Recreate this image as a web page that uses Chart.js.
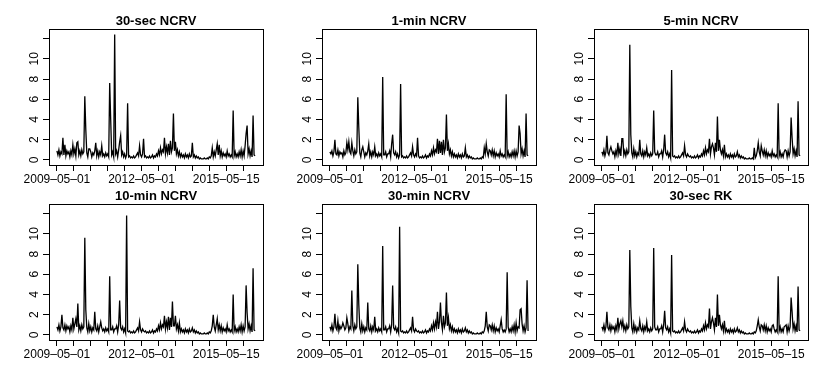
<!DOCTYPE html>
<html lang="en">
<head>
<meta charset="UTF-8">
<title>NCRV panels</title>
<script src="https://cdn.jsdelivr.net/npm/chart.js"></script>
<style>
  body { margin: 0; background: #fff; }
  #wrap { position: relative; width: 817px; height: 381px; }
  #wrap canvas { position: absolute; }
</style>
</head>
<body>
<div id="wrap"></div>
<script>
// panel titles, in reading order
const titles = ['30-sec NCRV', '1-min NCRV', '5-min NCRV', '10-min NCRV', '30-min NCRV', '30-sec RK'];

// x axis: observation index, tick marks and their labels (R drops the overlapping ones)
const xTickPos = [0, 17, 34, 51, 68, 85, 102, 119, 136, 153, 170, 187];
const xTickLabels = ['2009-05-01', '', '', '', '', '2012-05-01', '', '', '', '', '2015-05-15', ''];
const yTickPos = [0, 2, 4, 6, 8, 10, 12];
const yTickLabels = ['0', '2', '4', '6', '8', '10', ''];

const ncrv30s = [
  .9,.5,1.0,.4,.8,.6,2.2,.5,1.5,.4,.9,.6,.8,.3,.9,.5,1.5,.6,1.1,.4,
  1.7,1.8,.5,.9,.4,1.0,.6,.8,6.3,3.0,.7,.3,1.1,1.1,.8,.3,.7,.5,.9,1.7,
  .4,.9,.3,.8,.5,1.4,.4,.6,.3,.7,.4,.6,.3,7.6,4.0,.5,.8,.3,12.4,.6,
  .9,.3,1.0,1.8,2.4,.5,.8,.3,.6,.2,.5,5.6,.3,.4,.2,.3,.2,.4,.2,.3,
  .5,.7,.4,1.4,.5,.3,.6,2.1,.3,.4,.2,.3,.2,.4,.2,.3,.5,.2,.4,.3,
  .6,.4,.9,.5,1.2,.6,1.0,.8,2.2,.6,1.3,.7,1.6,.5,1.9,.8,1.2,4.6,.9,1.8,
  .6,1.0,.4,.8,.3,.6,.3,.5,.2,.6,.3,.5,.2,.6,.3,.4,1.7,.3,.5,.2,
  .4,.2,.3,.1,.2,.1,.1,.1,.2,.1,.1,.2,.1,.3,.2,.4,1.2,.3,.8,.4,
  1.0,1.6,.5,1.5,.4,.9,.3,.7,.4,.6,.3,.9,.4,.6,.3,.5,.3,4.9,.4,.8,
  .3,.6,.3,.8,.4,1.0,.3,.9,.4,1.4,2.6,3.4,.6,1.1,.4,.9,.3,4.4,.5,.4
];
const ncrv1m = [
  .8,.6,.9,.4,.8,2.0,.6,.5,1.0,.4,.8,.6,.7,.3,.9,.5,.7,1.7,1.0,1.8,
  .8,.6,1.7,.9,.4,1.0,.6,.8,6.2,3.2,.7,.3,1.0,1.3,.8,.3,.7,.5,.9,1.6,
  .4,.8,.3,.8,.5,1.3,.4,.6,.3,.7,.4,.6,.3,8.2,.5,.5,.8,.3,.6,.6,
  .9,.3,1.6,2.5,.7,.5,.8,.3,.6,.2,.5,7.5,.3,.4,.2,.3,.2,.4,.2,.3,
  .5,.7,.4,1.3,.5,.3,.6,.4,2.2,.4,.2,.3,.2,.4,.2,.3,.5,.2,.4,.3,
  .6,.4,.9,.5,1.2,.6,1.0,.8,2.1,.6,1.9,.7,1.8,.5,2.0,.8,1.2,4.5,.9,1.6,
  .6,1.0,.4,.8,.3,.6,.3,.5,.2,.6,.3,.5,.2,.6,.3,.4,1.2,.3,.5,.2,
  .4,.2,.3,.1,.2,.1,.1,.1,.2,.1,.1,.2,.1,.3,.2,1.2,.6,1.6,.8,.4,
  1.0,.9,.5,1.0,.4,.9,.3,.7,.4,.6,.3,.9,.4,.6,.3,.5,.3,6.5,.4,.8,
  .3,.6,.3,.8,.4,.9,.3,.9,.4,.8,3.4,2.6,.6,1.1,.4,.9,.3,4.6,.5,.4
];
const ncrv5m = [
  .8,.5,1.0,.4,.8,2.4,.7,.5,1.0,1.3,.9,.6,.8,.3,.9,.5,1.7,.6,1.1,.4,
  2.1,2.1,.5,.9,.4,1.0,.6,.8,11.4,2.5,.7,.3,1.1,.4,.8,.3,.7,.5,2.0,.6,
  .4,.9,.3,.8,.5,1.2,.4,.6,.3,.7,.4,.6,4.9,.8,.5,.5,.8,.3,.6,.6,
  .9,.3,1.0,2.5,.7,.5,.8,.3,.6,.2,8.9,.4,.3,.4,.2,.3,.2,.4,.2,.3,
  .5,.7,.4,1.4,.5,.3,.6,.4,.3,.4,.2,.3,.2,.4,.2,.3,.5,.2,.4,.3,
  .6,.4,.9,.5,1.2,.6,1.0,.8,2.1,.6,1.3,1.6,1.2,.5,1.7,.8,4.3,.9,2.0,1.0,
  .6,1.0,.4,1.5,.3,.6,.3,.5,.2,.6,.3,.5,.2,.6,.3,.4,.8,.3,.5,.2,
  .4,.2,.3,.1,.2,.1,.1,.1,.2,.1,.1,.2,.1,1.2,.2,.4,.9,1.7,.8,.4,
  1.4,.9,.5,1.0,.4,.9,.3,.7,.4,.6,.3,.9,.4,.6,.3,.5,.3,5.6,.4,.8,
  .3,.6,.3,.8,1.0,.9,.3,.9,.4,.8,4.2,2.2,.6,1.1,.4,.9,.3,5.8,.5,.4
];
const ncrv10m = [
  .8,.5,1.0,.4,.8,2.0,.7,.5,1.0,.4,.9,.6,.8,.3,.9,.5,1.7,.6,1.1,1.6,
  .8,3.1,.5,.9,.4,1.0,.6,.8,9.6,2.5,.7,.3,1.1,.4,.8,.3,.7,.5,2.3,.6,
  .4,.9,.3,.8,1.3,.7,.4,.6,.3,.7,.4,.6,.3,5.8,.5,.5,.8,.3,.6,.6,
  .9,.3,1.0,3.4,.7,.5,.8,.3,.6,.2,11.8,.4,.3,.4,.2,.3,.2,.4,.2,.3,
  .5,.7,.4,1.3,.5,.3,.6,.4,.3,.4,.2,.3,.2,.4,.2,.3,.5,.2,.4,.3,
  .6,.4,.9,.5,1.2,.6,1.0,.8,1.9,.6,1.3,.7,1.8,.5,1.7,.8,3.3,.9,.9,1.9,
  .6,1.0,.4,1.2,.3,.6,.3,.5,.2,.6,.3,.5,.2,.6,.3,.4,.7,.3,.5,.2,
  .4,.2,.3,.1,.2,.1,.1,.1,.2,.1,.1,.2,.1,.3,.2,.4,.9,2.0,.8,.4,
  1.0,1.6,.5,1.0,.4,.9,.3,.7,.4,.6,.3,1.0,.4,.6,.3,.5,.3,4.0,.4,.8,
  .3,.6,.3,.8,.4,1.0,.3,.9,.4,.8,4.9,2.2,.6,1.1,.4,.9,.3,6.6,.5,.4
];
const ncrv30m = [
  .8,.5,1.0,.4,.8,2.1,.7,.5,1.4,.4,.9,.6,.8,1.2,.9,.5,.7,1.7,1.1,.4,
  .8,.6,4.4,.9,.4,1.0,.6,.8,7.0,3.0,.7,.3,1.1,.4,.8,.3,.7,.5,3.2,.6,
  .4,.9,.3,.8,.5,1.8,.4,.6,.3,.7,.4,.6,.3,8.8,.5,.5,.8,.3,.6,.6,
  .9,.3,1.0,4.9,.7,.5,.8,.3,.6,.2,10.7,.4,.3,.4,.2,.3,.2,.4,.2,.3,
  .5,.7,.4,1.8,.5,.3,.6,.4,.3,.4,.2,.3,.2,.4,.2,.3,.5,.2,.4,.3,
  .6,.4,.9,.5,1.2,.6,1.3,.8,2.3,.6,1.3,3.2,1.2,.5,1.9,.8,1.2,4.2,.9,1.7,
  .6,1.0,.4,.8,.3,.6,.3,.5,.2,.6,.3,.5,.2,.6,.3,.4,.7,.3,.5,.2,
  .4,.2,.3,.1,.2,.1,.1,.1,.2,.1,.1,.2,.1,.3,.2,.4,.9,2.3,.8,.4,
  1.0,.9,.5,1.0,.4,.9,.3,.7,.4,.6,.3,.9,1.5,.6,.3,.5,.3,.6,6.2,.8,
  .3,.6,.3,.8,.4,1.0,.3,1.2,.4,.8,.7,2.5,2.6,1.1,.4,.9,.3,.7,5.4,.4
];
const rk30s = [
  .8,.5,1.0,.4,.8,2.3,.7,.5,1.0,.4,.9,.6,.8,.3,.9,.5,1.7,.6,1.1,1.4,
  .8,1.4,.5,.9,.4,1.0,.6,.8,8.4,2.8,.7,.3,1.1,.4,.8,.3,.7,.5,1.4,.6,
  .4,.9,.3,.8,.5,1.3,.4,.6,.3,.7,.4,.6,8.6,.8,.5,.5,.8,.3,.6,.6,
  .9,.3,1.0,2.4,.7,.5,.8,.3,.6,.2,7.9,.4,.3,.4,.2,.3,.2,.4,.2,.3,
  .5,.7,.4,1.3,.5,.3,.6,.4,.3,.4,.2,.3,.2,.4,.2,.3,.5,.2,.4,.3,
  .6,.4,.9,.5,1.2,.6,1.0,.8,2.6,.6,1.3,1.7,1.2,.5,1.7,.8,4.0,.9,2.0,1.0,
  .6,1.0,.4,1.4,.3,.6,.3,.5,.2,.6,.3,.5,.2,.6,.3,.4,.7,.3,.5,.2,
  .4,.2,.3,.1,.2,.1,.1,.1,.2,.1,.1,.2,.1,.3,.2,.4,.9,1.5,.8,.4,
  1.0,.9,.5,1.0,.4,.9,.3,.7,.4,.6,.3,.9,1.0,.6,.3,.5,.3,5.8,.4,.8,
  .3,.6,.3,.8,.9,1.0,.3,.9,.4,.8,3.7,2.3,.6,1.1,.4,.9,.3,4.8,.5,.4
];
const series = [ncrv30s, ncrv1m, ncrv5m, ncrv10m, ncrv30m, rk30s];

const FONT = '"Liberation Sans", Arial, Helvetica, sans-serif';

// box, title and vertical y labels the way base R draws them
const rFrame = {
  id: 'rFrame',
  afterDraw(chart, args, opts) {
    const ctx = chart.ctx, a = chart.chartArea, ys = chart.scales.y;
    ctx.save();
    ctx.strokeStyle = '#000';
    ctx.lineWidth = 1;
    ctx.strokeRect(Math.round(a.left) + 0.5, Math.round(a.top) + 0.5,
                   Math.round(a.right - a.left), Math.round(a.bottom - a.top));
    ctx.fillStyle = '#000';
    ctx.font = 'bold 13px ' + FONT;
    ctx.textAlign = 'center';
    ctx.textBaseline = 'alphabetic';
    ctx.fillText(opts.title, (a.left + a.right) / 2, 25);
    ctx.font = '12px ' + FONT;
    yTickPos.forEach((v, i) => {
      ctx.save();
      ctx.translate(a.left - 11.5, ys.getPixelForValue(v));
      ctx.rotate(-Math.PI / 2);
      ctx.fillText(yTickLabels[i], 0, 0);
      ctx.restore();
    });
    ctx.restore();
  }
};

const wrap = document.getElementById('wrap');
const N = ncrv30s.length;
const colLeft = [0, 273, 545];
const rowTop = [0, 175];

series.forEach((vals, k) => {
  const cv = document.createElement('canvas');
  cv.width = 272; cv.height = 190;
  cv.style.left = colLeft[k % 3] + 'px';
  cv.style.top = rowTop[Math.floor(k / 3)] + 'px';
  wrap.appendChild(cv);

  new Chart(cv, {
    type: 'line',
    data: {
      datasets: [{
        data: vals.map((v, i) => ({ x: i, y: v })),
        borderColor: '#000',
        borderWidth: 1.3,
        pointRadius: 0,
        tension: 0,
        fill: false
      }]
    },
    options: {
      responsive: false,
      animation: false,
      events: [],
      layout: { padding: { top: 29, right: 9, left: 0, bottom: 0 } },
      plugins: {
        legend: { display: false },
        tooltip: { enabled: false },
        rFrame: { title: titles[k] }
      },
      scales: {
        x: {
          type: 'linear',
          min: -0.04 * (N - 1),
          max: 1.04 * (N - 1),
          afterBuildTicks: s => { s.ticks = xTickPos.map(v => ({ value: v })); },
          afterFit: s => { s.height = 25; },
          ticks: {
            autoSkip: false, maxRotation: 0, minRotation: 0, padding: 1,
            color: '#000', font: { family: FONT, size: 12 },
            callback: v => {
              const j = xTickPos.indexOf(v);
              return j < 0 ? '' : xTickLabels[j].replace(/-/g, '\u2013');
            }
          },
          grid: { drawOnChartArea: false, drawTicks: true, tickLength: 6, color: '#000' },
          border: { display: false }
        },
        y: {
          type: 'linear',
          min: -0.5,
          max: 12.95,
          afterBuildTicks: s => { s.ticks = yTickPos.map(v => ({ value: v })); },
          afterFit: s => { s.width = 49; },
          ticks: { display: false },
          grid: { drawOnChartArea: false, drawTicks: true, tickLength: 6, color: '#000' },
          border: { display: false }
        }
      }
    },
    plugins: [rFrame]
  });
});
</script>
</body>
</html>
